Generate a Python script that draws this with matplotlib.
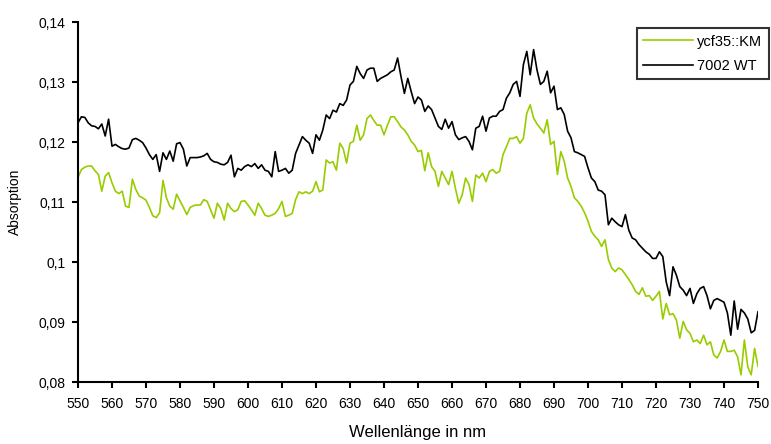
import numpy as np
import matplotlib
matplotlib.use('Agg')
import matplotlib.pyplot as plt
from matplotlib.ticker import FuncFormatter

# wavelength axis (nm)
wavelength = np.arange(550, 751, 1)

# absorption of the mutant (green)
ycf35_km = [
    0.1141, 0.1154, 0.1158, 0.1160, 0.1160, 0.1152, 0.1146, 0.1118, 0.1143, 0.1149,
    0.1132, 0.1118, 0.1114, 0.1118, 0.1093, 0.1091, 0.1138, 0.1121, 0.1110, 0.1107,
    0.1103, 0.1091, 0.1077, 0.1074, 0.1082, 0.1136, 0.1107, 0.1093, 0.1088, 0.1113,
    0.1102, 0.1091, 0.1079, 0.1091, 0.1094, 0.1095, 0.1095, 0.1104, 0.1101, 0.1087,
    0.1073, 0.1098, 0.1089, 0.1070, 0.1098, 0.1089, 0.1084, 0.1087, 0.1101, 0.1102,
    0.1095, 0.1087, 0.1078, 0.1098, 0.1089, 0.1078, 0.1076, 0.1078, 0.1081, 0.1089,
    0.1101, 0.1076, 0.1078, 0.1081, 0.1104, 0.1117, 0.1114, 0.1117, 0.1114, 0.1118,
    0.1134, 0.1117, 0.1120, 0.1170, 0.1165, 0.1167, 0.1153, 0.1198, 0.1189, 0.1165,
    0.1198, 0.1201, 0.1228, 0.1203, 0.1212, 0.1239, 0.1245, 0.1236, 0.1228, 0.1228,
    0.1212, 0.1228, 0.1242, 0.1242, 0.1234, 0.1225, 0.1220, 0.1212, 0.1201, 0.1195,
    0.1184, 0.1186, 0.1152, 0.1182, 0.1159, 0.1151, 0.1126, 0.1151, 0.1140, 0.1129,
    0.1151, 0.1123, 0.1098, 0.1112, 0.1140, 0.1129, 0.1101, 0.1145, 0.1140, 0.1148,
    0.1134, 0.1151, 0.1154, 0.1148, 0.1151, 0.1179, 0.1192, 0.1206, 0.1206, 0.1209,
    0.1198, 0.1206, 0.1248, 0.1262, 0.1240, 0.1230, 0.1223, 0.1215, 0.1237, 0.1196,
    0.1201, 0.1146, 0.1184, 0.1168, 0.1140, 0.1126, 0.1107, 0.1101, 0.1093, 0.1082,
    0.1068, 0.1051, 0.1043, 0.1037, 0.1026, 0.1037, 0.1004, 0.0990, 0.0984, 0.0990,
    0.0987, 0.0979, 0.0971, 0.0962, 0.0951, 0.0946, 0.0957, 0.0943, 0.0944, 0.0936,
    0.0943, 0.0951, 0.0905, 0.0931, 0.0912, 0.0914, 0.0903, 0.0873, 0.0901, 0.0887,
    0.0881, 0.0867, 0.0870, 0.0864, 0.0878, 0.0862, 0.0867, 0.0845, 0.0840, 0.0851,
    0.0870, 0.0851, 0.0851, 0.0853, 0.0842, 0.0812, 0.0870, 0.0825, 0.0812, 0.0856,
    0.0826,
]

# absorption of the wild type (black)
wt_7002 = [
    0.1232, 0.1242, 0.1241, 0.1232, 0.1227, 0.1226, 0.1222, 0.1230, 0.1210, 0.1238,
    0.1193, 0.1196, 0.1192, 0.1189, 0.1188, 0.1190, 0.1204, 0.1206, 0.1203, 0.1199,
    0.1190, 0.1179, 0.1171, 0.1179, 0.1151, 0.1182, 0.1171, 0.1185, 0.1168, 0.1197,
    0.1199, 0.1188, 0.1160, 0.1174, 0.1174, 0.1174, 0.1175, 0.1177, 0.1181, 0.1171,
    0.1167, 0.1166, 0.1163, 0.1162, 0.1166, 0.1178, 0.1142, 0.1156, 0.1153, 0.1159,
    0.1162, 0.1159, 0.1164, 0.1156, 0.1162, 0.1153, 0.1151, 0.1142, 0.1184, 0.1151,
    0.1153, 0.1156, 0.1148, 0.1153, 0.1181, 0.1195, 0.1209, 0.1203, 0.1198, 0.1181,
    0.1212, 0.1203, 0.1220, 0.1245, 0.1239, 0.1253, 0.1250, 0.1264, 0.1261, 0.1270,
    0.1295, 0.1301, 0.1326, 0.1314, 0.1306, 0.1320, 0.1323, 0.1323, 0.1301, 0.1306,
    0.1309, 0.1312, 0.1317, 0.1320, 0.1340, 0.1309, 0.1281, 0.1306, 0.1284, 0.1264,
    0.1275, 0.1270, 0.1251, 0.1260, 0.1254, 0.1240, 0.1226, 0.1221, 0.1238, 0.1223,
    0.1234, 0.1212, 0.1204, 0.1207, 0.1209, 0.1201, 0.1187, 0.1223, 0.1226, 0.1243,
    0.1218, 0.1240, 0.1243, 0.1243, 0.1251, 0.1254, 0.1273, 0.1282, 0.1296, 0.1301,
    0.1276, 0.1329, 0.1351, 0.1312, 0.1354, 0.1320, 0.1296, 0.1301, 0.1318, 0.1282,
    0.1293, 0.1254, 0.1257, 0.1246, 0.1218, 0.1207, 0.1184, 0.1182, 0.1179, 0.1176,
    0.1157, 0.1140, 0.1134, 0.1120, 0.1118, 0.1112, 0.1062, 0.1073, 0.1067, 0.1062,
    0.1059, 0.1079, 0.1053, 0.1040, 0.1037, 0.1029, 0.1023, 0.1017, 0.1013, 0.1006,
    0.1006, 0.1017, 0.1009, 0.0967, 0.0944, 0.0992, 0.0978, 0.0959, 0.0953, 0.0944,
    0.0956, 0.0931, 0.0947, 0.0956, 0.0959, 0.0944, 0.0922, 0.0936, 0.0939, 0.0936,
    0.0933, 0.0915, 0.0878, 0.0935, 0.0888, 0.0921, 0.0915, 0.0905, 0.0882, 0.0886,
    0.0917,
]

plt.rcParams['font.family'] = ['Liberation Sans', 'DejaVu Sans']

fig = plt.figure(figsize=(7.71, 4.44), dpi=100)
ax = fig.add_axes([78 / 771, 1 - 382 / 444, 680 / 771, 360 / 444])

ax.plot(wavelength, ycf35_km, color='#99cc00', lw=1.2, label='ycf35::KM')
ax.plot(wavelength, wt_7002, color='black', lw=1.2, label='7002 WT')

ax.set_xlim(550, 750)
ax.set_ylim(0.08, 0.14)
ax.set_xticks(np.arange(550, 751, 10))
ax.set_yticks(np.arange(0.08, 0.1401, 0.01))
ax.yaxis.set_major_formatter(FuncFormatter(lambda v, p: f"{round(v, 2):g}".replace('.', ',')))

for side in ['top', 'right']:
    ax.spines[side].set_visible(False)
for side in ['left', 'bottom']:
    ax.spines[side].set_linewidth(1.5)
ax.tick_params(axis='both', direction='out', length=4, width=1.5, labelsize=10)
ax.tick_params(axis='x', pad=7)
ax.tick_params(axis='y', pad=5)

ax.set_xlabel('Wellenlänge in nm', fontsize=12, labelpad=10)
ax.set_ylabel('Absorption', fontsize=10, labelpad=12)

leg = ax.legend(loc='upper right', bbox_to_anchor=(769 / 771, 1 - 28 / 444),
                bbox_transform=fig.transFigure, fontsize=10.5, frameon=True,
                fancybox=False, handlelength=3.4, handletextpad=0.3,
                labelspacing=0.7, borderpad=0.45, borderaxespad=0)
leg.get_frame().set_edgecolor('black')
leg.get_frame().set_linewidth(1.5)

fig.savefig('out.png', dpi=100)
